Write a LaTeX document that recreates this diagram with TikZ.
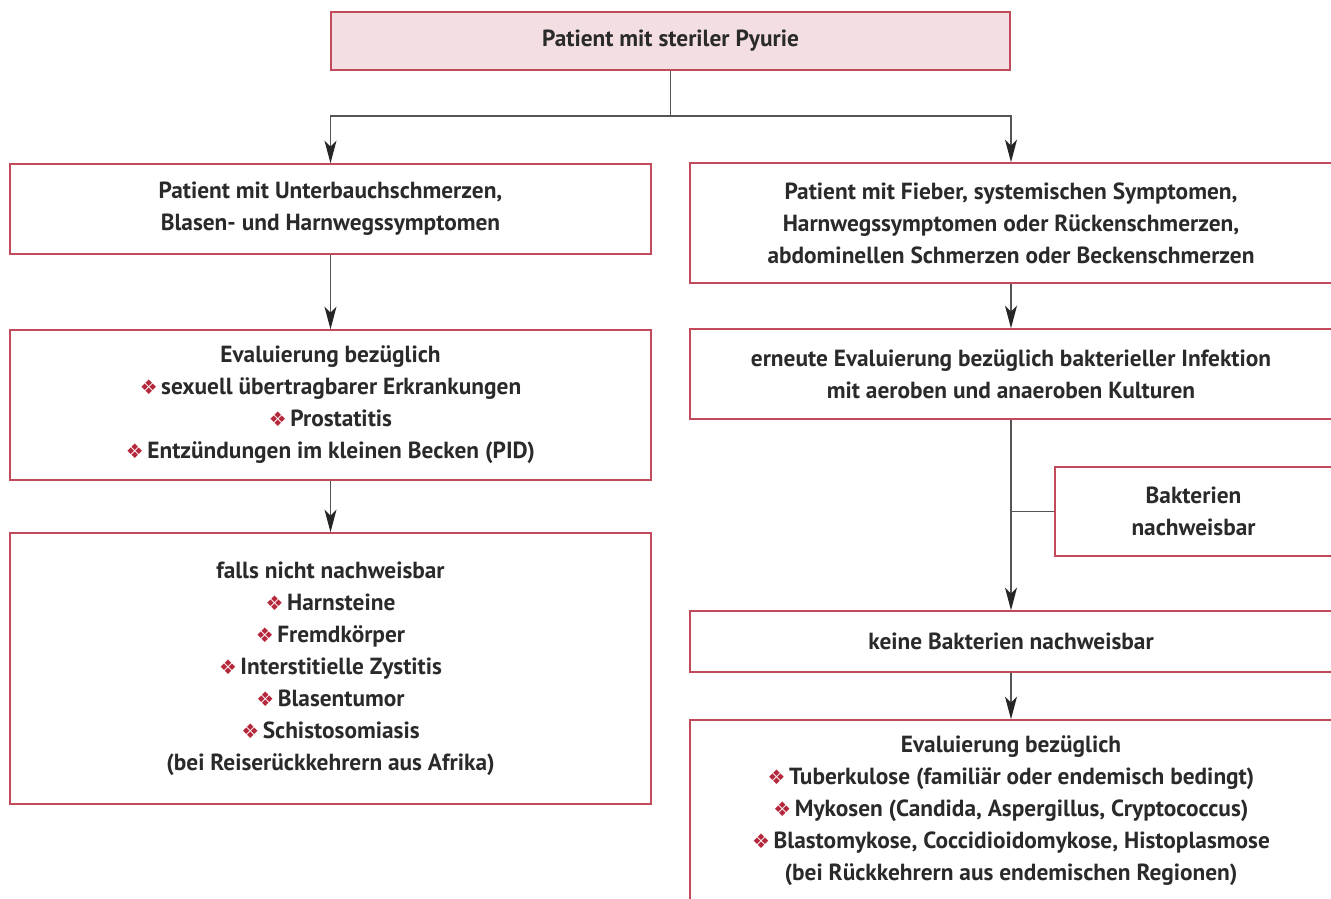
\documentclass[tikz,border=0pt]{standalone}
\usepackage{fontspec}
\setmainfont{PT Sans}
\newfontfamily\dejavu{DejaVu Sans}
\usetikzlibrary{arrows.meta}
\definecolor{boxred}{HTML}{C24A5B}
\definecolor{topfill}{HTML}{F3DEE1}
\definecolor{bulred}{HTML}{B5283C}
\definecolor{linegray}{HTML}{555555}
\definecolor{txt}{HTML}{2A2A2A}
\newcommand{\bul}{{\color{bulred}\fontsize{15pt}{12pt}\dejavu ❖}\hspace{0.15em}}
\tikzset{
  box/.style={draw=boxred, line width=1.1pt, align=center, inner sep=0pt,
    font=\fontsize{17.5pt}{24pt}\selectfont\bfseries, text=txt},
  conn/.style={draw=linegray, line width=1.1pt},
  arr/.style={conn, -{Stealth[length=17pt, width=9pt, inset=4.5pt, color=black!85]}},
}
\begin{document}
\begin{tikzpicture}[x=0.75pt, y=-0.75pt]
\path[use as bounding box, clip] (0,0) rectangle (1331,899);
\fill[white] (0,0) rectangle (1331,899);
% boxes
\node[box, fill=topfill, minimum width=679*0.75pt, minimum height=58*0.75pt] (top) at (670.5,41) {Patient mit steriler Pyurie};
\node[box, minimum width=641*0.75pt, minimum height=90*0.75pt] (l1) at (330.5,209) {Patient mit Unterbauchschmerzen,\\Blasen- und Harnwegssymptomen};
\node[box, minimum width=641*0.75pt, minimum height=150*0.75pt] (l2) at (330.5,405) {Evaluierung bezüglich\\\bul sexuell übertragbarer Erkrankungen\\\bul Prostatitis\\\bul Entzündungen im kleinen Becken (PID)};
\node[box, minimum width=641*0.75pt, minimum height=271*0.75pt] (l3) at (330.5,668.5) {falls nicht nachweisbar\\\bul Harnsteine\\\bul Fremdkörper\\\bul Interstitielle Zystitis\\\bul Blasentumor\\\bul Schistosomiasis\\(bei Reiserückkehrern aus Afrika)};
\node[box, minimum width=642*0.75pt, minimum height=120*0.75pt] (r1) at (1011,223) {Patient mit Fieber, systemischen Symptomen,\\Harnwegssymptomen oder Rückenschmerzen,\\abdominellen Schmerzen oder Beckenschmerzen};
\node[box, minimum width=642*0.75pt, minimum height=90*0.75pt] (r2) at (1011,374) {erneute Evaluierung bezüglich bakterieller Infektion\\mit aeroben und anaeroben Kulturen};
\node[box, minimum width=277*0.75pt, minimum height=89*0.75pt] (b) at (1193.5,511.5) {Bakterien\\nachweisbar};
\node[box, minimum width=642*0.75pt, minimum height=61*0.75pt] (k) at (1011,641.5) {keine Bakterien nachweisbar};
\node[box, minimum width=642*0.75pt, minimum height=182*0.75pt] (e) at (1011,811) {Evaluierung bezüglich\\\bul Tuberkulose (familiär oder endemisch bedingt)\\\bul Mykosen (Candida, Aspergillus, Cryptococcus)\\\bul Blastomykose, Coccidioidomykose, Histoplasmose\\(bei Rückkehrern aus endemischen Regionen)};
% connectors
\coordinate (j) at (670.5,116);
\draw[conn] (top.south) -- (j);
\draw[arr] (j) -| (l1.north);
\draw[arr] (j) -| (r1.north);
\draw[arr] (l1.south) -- (l2.north);
\draw[arr] (l2.south) -- (l3.north);
\draw[arr] (r1.south) -- (r2.north);
\draw[arr] (r2.south) -- (k.north);
\draw[conn] (r2.south |- b.west) -- (b.west);
\draw[arr] (k.south) -- (e.north);
\end{tikzpicture}
\end{document}
